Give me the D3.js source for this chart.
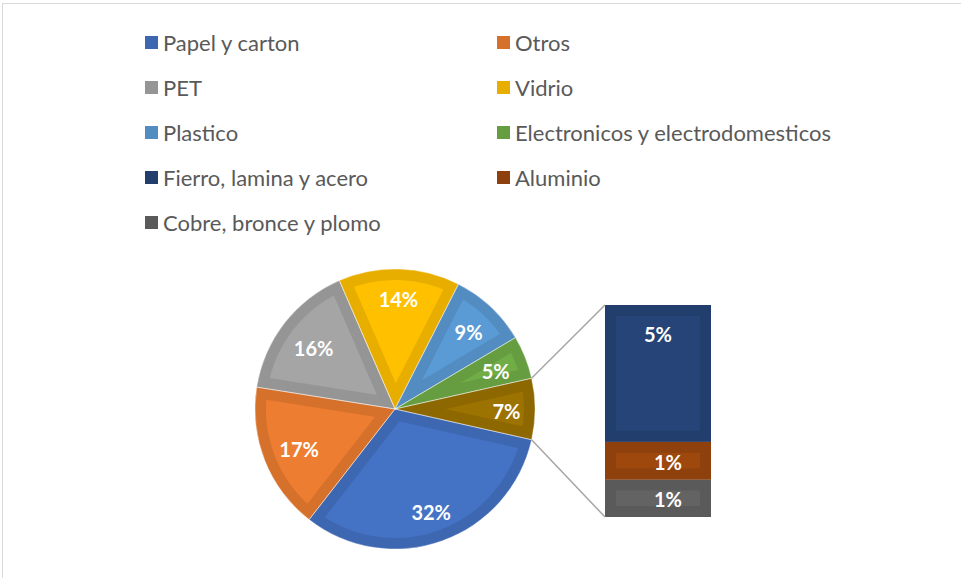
<!DOCTYPE html>
<html lang="es">
<head>
<meta charset="utf-8">
<title>Pie of bar</title>
<script src="https://d3js.org/d3.v7.min.js"></script>
<style>
  body { margin: 0; background: #fff; }
  text { font-family: Lato, "Open Sans", sans-serif; }
</style>
</head>
<body>
<script>
// data
var categories = ["Papel y carton", "Otros", "PET", "Vidrio", "Plastico",
                  "Electronicos y electrodomesticos", "Fierro, lamina y acero",
                  "Aluminio", "Cobre, bronce y plomo"];
var values = [32, 17, 16, 14, 9, 5, 4.55, 1.25, 1.25];
var colors = ["#4472C4", "#ED7D31", "#A5A5A5", "#FFC000", "#5B9BD5",
              "#70AD47", "#264478", "#9E480E", "#636363"];
var otherColor = "#9C7200";
var pieCount = 6;   // the first six go in the pie, the rest in the bar

var width = 961, height = 578;
var cx = 395, cy = 409, r = 140;
var inset = 11;

var svg = d3.select("body").append("svg")
    .attr("width", width).attr("height", height);

svg.append("rect")
    .attr("x", 2.5).attr("y", 3.5)
    .attr("width", 1000).attr("height", 700)
    .attr("fill", "none").attr("stroke", "#D9D9D9");

var defs = svg.append("defs");
var total = d3.sum(values);
var fmt = d3.format(".0%");
function dark(c) { return d3.rgb(c).darker(0.28).formatHex(); }

var items = categories.map(function(c, i) {
  return {name: c, value: values[i], color: colors[i]};
});
var pieItems = items.slice(0, pieCount);
var barItems = items.slice(pieCount);
var otherTotal = d3.sum(barItems, function(d) { return d.value; });

// pie: the combined slice sits centred on the right-hand side
var otherAngle = otherTotal / total * 2 * Math.PI;
var start = Math.PI / 2 - otherAngle / 2;
var pieData = [{name: "Otros materiales", value: otherTotal, color: otherColor}].concat(pieItems);
var arcs = d3.pie().sort(null).value(function(d) { return d.value; })
    .startAngle(start).endAngle(start + 2 * Math.PI)(pieData);

var arc = d3.arc().innerRadius(0).outerRadius(r);

var gPie = svg.append("g").attr("transform", "translate(" + cx + "," + cy + ")");

arcs.forEach(function(d, i) {
  var id = "clipSlice" + i;
  defs.append("clipPath").attr("id", id)
    .append("path").attr("d", arc(d));
  gPie.append("path")
    .attr("d", arc(d))
    .attr("fill", d.data.color)
    .attr("stroke", dark(d.data.color))
    .attr("stroke-width", inset * 2)
    .attr("stroke-linejoin", "miter")
    .attr("clip-path", "url(#" + id + ")");
});
gPie.selectAll("path.seam").data(arcs).enter().append("path")
    .attr("class", "seam")
    .attr("d", arc)
    .attr("fill", "none")
    .attr("stroke", "#fff").attr("stroke-opacity", 0.5).attr("stroke-width", 0.8);

// labels at inside end
var labelR = 126;
gPie.selectAll("text.lbl").data(arcs).enter().append("text")
    .attr("class", "lbl")
    .attr("text-anchor", "middle")
    .attr("dominant-baseline", "central")
    .attr("fill", "#fff")
    .attr("font-weight", "bold")
    .attr("font-size", 20)
    .text(function(d) { return fmt(d.data.value / total); })
    .each(function(d) {
      var b = this.getBBox();
      var a = (d.startAngle + d.endAngle) / 2;
      var ux = Math.sin(a), uy = -Math.cos(a);
      var c1 = Math.sign(ux) * b.width / 2, c2 = Math.sign(uy) * b.height / 2;
      var uc = ux * c1 + uy * c2;
      var dist = -uc + Math.sqrt(uc * uc - (c1 * c1 + c2 * c2) + labelR * labelR);
      d3.select(this).attr("x", ux * dist).attr("y", uy * dist + 2);
    });

// bar of the small materials
var barX = 605, barW = 106;
var yBar = d3.scaleLinear().domain([0, otherTotal]).range([517, 305]);
var cum = 0;
var segs = barItems.slice().reverse().map(function(d) {
  var s = {d: d, y0: cum, y1: cum + d.value};
  cum += d.value;
  return s;
});

var gBar = svg.append("g");
segs.forEach(function(s, i) {
  var id = "clipBar" + i;
  var y = yBar(s.y1), h = yBar(s.y0) - yBar(s.y1);
  defs.append("clipPath").attr("id", id)
    .append("rect").attr("x", barX).attr("y", y).attr("width", barW).attr("height", h);
  gBar.append("rect")
    .attr("x", barX).attr("y", y).attr("width", barW).attr("height", h)
    .attr("fill", s.d.color)
    .attr("stroke", dark(s.d.color))
    .attr("stroke-width", inset * 2)
    .attr("clip-path", "url(#" + id + ")");
  var ty = h > 60 ? y + 28 : y + h / 2;
  gBar.append("text")
    .attr("x", barX + barW / 2 + (h > 60 ? 0 : 10)).attr("y", ty + 1)
    .attr("text-anchor", "middle")
    .attr("dominant-baseline", "central")
    .attr("fill", "#fff").attr("font-weight", "bold").attr("font-size", 20)
    .text(fmt(s.d.value / total));
});

// connector lines
var a0 = arcs[0].startAngle, a1 = arcs[0].endAngle;
var lines = [[a0, yBar(otherTotal)], [a1, yBar(0)]];
svg.selectAll("line.conn").data(lines).enter().append("line")
    .attr("class", "conn")
    .attr("x1", function(d) { return cx + r * Math.sin(d[0]); })
    .attr("y1", function(d) { return cy - r * Math.cos(d[0]); })
    .attr("x2", barX)
    .attr("y2", function(d) { return d[1]; })
    .attr("stroke", "#A6A6A6").attr("stroke-width", 1.5);

// legend
var legX = [145, 497], legY0 = 42, legDy = 45;
var leg = svg.append("g").selectAll("g").data(items).enter().append("g")
    .attr("transform", function(d, i) {
      return "translate(" + legX[i % 2] + "," + (legY0 + Math.floor(i / 2) * legDy) + ")";
    });
leg.append("rect")
    .attr("x", 0).attr("y", -6).attr("width", 13).attr("height", 13)
    .attr("fill", function(d) { return dark(d.color); });
leg.append("text")
    .attr("x", 18).attr("y", 0)
    .attr("dominant-baseline", "central")
    .attr("fill", "#595959").attr("font-size", 22)
    .text(function(d) { return d.name; });
</script>
</body>
</html>
